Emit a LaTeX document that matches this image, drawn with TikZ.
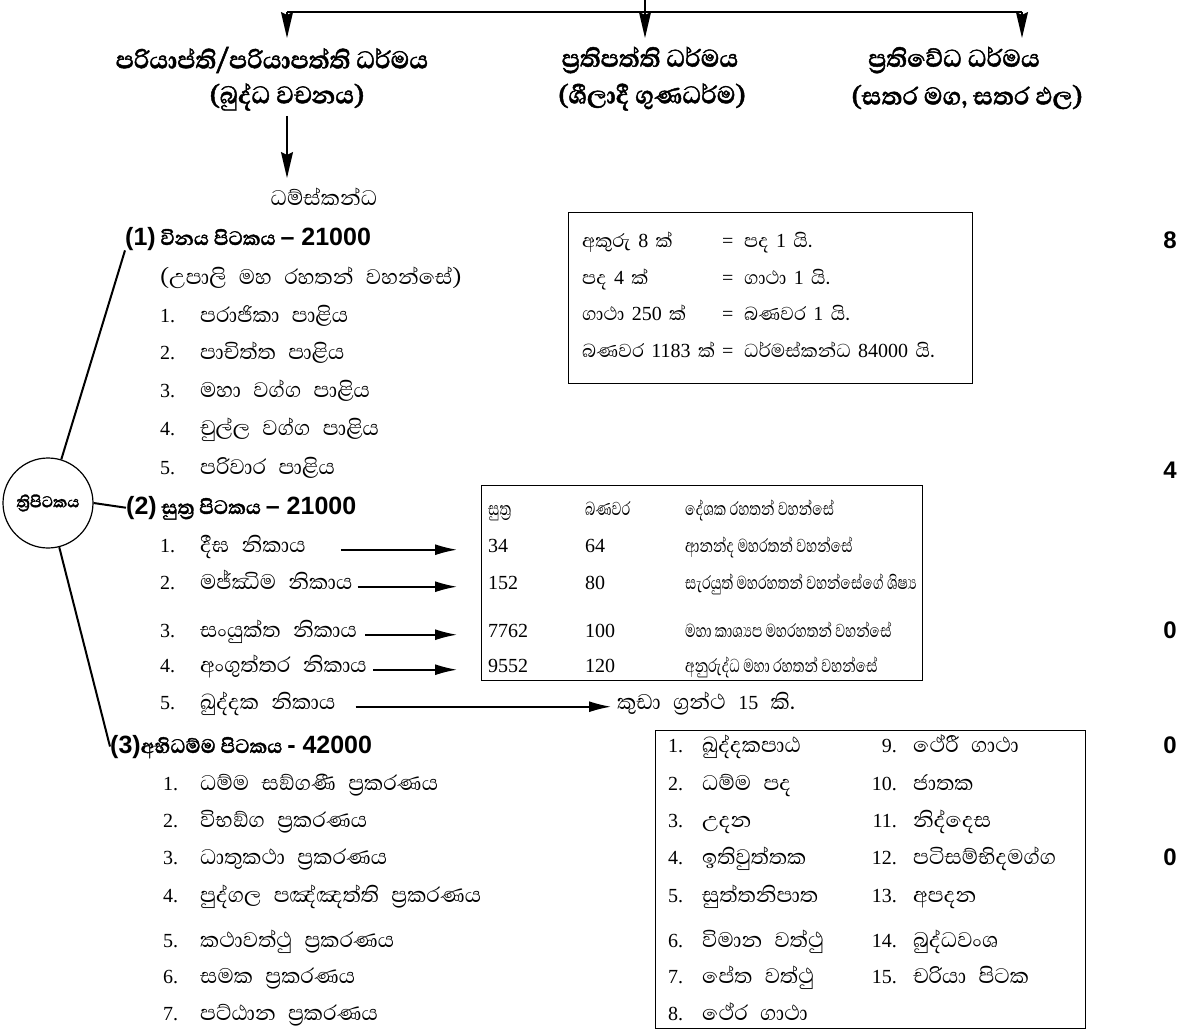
\documentclass[tikz,border=0pt]{standalone}
\usepackage{fontspec}
\setmainfont{Liberation Serif}
\newfontfamily\sinhfont[Script=Sinhala, Scale=1.35, WordSpace=2.4]{Abhaya Libre}
\newfontfamily\sinhbox[Script=Sinhala, Scale=1.2, WordSpace=1.6]{Abhaya Libre}
\newfontfamily\sinhtab[Script=Sinhala, Scale=1.2, FakeStretch=0.73]{Abhaya Libre}
\newfontfamily\sinhhead[Script=Sinhala, BoldFeatures={FakeBold=1.5}]{Abhaya Libre}
\newfontfamily\sansfont{Liberation Sans}
\usetikzlibrary{arrows.meta, positioning}
\newcommand{\zwj}{^^^^200d}
\newcommand{\lat}[1]{{\sansfont\bfseries #1}}
\newcommand{\dg}[1]{{\rmfamily #1}}

\tikzset{
  txt/.style={anchor=base west, inner sep=0pt, font=\sinhfont\fontsize{20}{24}\selectfont},
  btxt/.style={anchor=base west, inner sep=0pt, font=\sinhbox\fontsize{20}{24}\selectfont},
  tab/.style={anchor=base west, inner sep=0pt, font=\sinhtab\fontsize{20}{24}\selectfont},
  num/.style={anchor=base west, inner sep=0pt, font=\fontsize{20}{24}\selectfont},
  head/.style={inner sep=0pt, font=\sinhhead\bfseries\fontsize{31}{36}\selectfont},
  sub/.style={anchor=base west, inner sep=0pt, font=\sinhhead\bfseries\fontsize{25}{30}\selectfont},
  box/.style={draw, line width=1.2pt, anchor=north west, inner sep=0pt},
  big/.style={-{Stealth[length=26pt,width=12pt,inset=3pt]}, line width=1.6pt},
  arr/.style={-{Latex[length=22pt,width=11pt]}, line width=1.6pt},
  trunk/.style={line width=2pt}
}

\begin{document}
\begin{tikzpicture}[x=1pt,y=-1pt]
  \useasboundingbox (0,0) rectangle (1184,1030);

  % Drei Dhamma-Arten oben
  \node[head] (pari1) at (272,60) {පරියාප්ති/පරියාපත්ති ධර්මය};
  \node[head] (pari2) at (287,97) {(බුද්ධ වචනය)};
  \node[head] (prati1) at (650,60) {ප්\zwj රතිපත්ති ධර්මය};
  \node[head] (prati2) at (652,97) {(ශීලාදී ගුණධර්ම)};
  \node[head] (vedha1) at (954,60) {ප්\zwj රතිවේධ ධර්මය};
  \node[head] (vedha2) at (967,97) {(සතර මග, සතර ඵල)};

  \coordinate (top) at (645,0);
  \coordinate (barL) at (287,12);
  \coordinate (barM) at (645,12);
  \coordinate (barR) at (1022,12);
  \draw[trunk] (barL) -- (barR);
  \draw[big] (top) -- (barM) -- (barM |- 0,38);
  \draw[big] (barL) -- (barL |- 0,38);
  \draw[big] (barR) -- (barR |- 0,38);

  \node[txt, anchor=center] (dham) at (324,197) {ධම්ස්කන්ධ};
  \coordinate (d0) at (287,116);
  \draw[big] (d0) -- (d0 |- 0,178);

  % Kreis
  \node[draw, circle, line width=1.2pt, minimum size=90pt, inner sep=0pt,
        font=\sinhhead\bfseries\fontsize{20}{22}\selectfont] (tri) at (48,503) {ත්\zwj රිපිටකය};

  % (1) Vinaya
  \node[sub] (h1) at (125,245) {\lat{(1)} විනය පිටකය \lat{– 21000}};
  \node[txt] (upali) at (160,284) {(උපාලි මහ රහතන් වහන්සේ)};
  \foreach \y/\n/\t [count=\i] in {322/1./පරාජිකා පාළිය, 359/2./පාචිත්ත පාළිය,
      397/3./මහා වග්ග පාළිය, 435/4./චුල්ල වග්ග පාළිය, 474/5./පරිවාර පාළිය}
  {
    \node[num] (vn\i) at (160,\y) {\n};
    \node[txt] (vi\i) at (200,\y) {\t};
  }

  % (2) Sutta
  \node[sub] (h2) at (126,514) {\lat{(2)} සුත්\zwj ර පිටකය \lat{– 21000}};
  \foreach \y/\n/\t [count=\i] in {552/1./දීඝ නිකාය, 589/2./මජ්ඣිම නිකාය,
      637/3./සංයුක්ත නිකාය, 672/4./අංගුත්තර නිකාය, 709/5./ඛුද්දක නිකාය}
  {
    \node[num] (nn\i) at (160,\y) {\n};
    \node[txt] (ni\i) at (200,\y) {\t};
  }

  % (3) Abhidhamma
  \node[sub] (h3) at (110,753) {\lat{(3)}අභිධම්ම පිටකය \lat{- 42000}};
  \foreach \y/\n/\t [count=\i] in {790/1./ධම්ම සඞ්ගණී ප්\zwj රකරණය, 827/2./විභඞ්ග ප්\zwj රකරණය,
      864/3./ධාතුකථා ප්\zwj රකරණය, 902/4./පුද්ගල පඤ්ඤත්ති ප්\zwj රකරණය,
      947/5./කථාවත්ථු ප්\zwj රකරණය, 983/6./සමක ප්\zwj රකරණය, 1020/7./පට්ඨාන ප්\zwj රකරණය}
  {
    \node[num] (an\i) at (163,\y) {\n};
    \node[txt] (ab\i) at (200,\y) {\t};
  }

  % Aeste
  \draw[trunk] (tri) -- (h1.south west);
  \draw[trunk] (tri.east) -- (h2.west);
  \draw[trunk] (tri) -- (h3.west);

  % Kasten: Akkhara
  \node[box, minimum width=404pt, minimum height=171pt] (mbox) at (568,212) {};
  \foreach \y/\a/\b in {247/අකුරු \dg{8} ක්/පද \dg{1} යි., 284/පද \dg{4} ක්/ගාථා \dg{1} යි.,
      320/ගාථා \dg{250} ක්/බණවර \dg{1} යි., 357/බණවර \dg{1183} ක්/ධර්මස්කන්ධ \dg{84000} යි.}
  {
    \node[btxt] at (582,\y) {\a};
    \node[num] at (722,\y) {=};
    \node[btxt] at (744,\y) {\b};
  }

  % Kasten: Sutta-Tabelle
  \node[box, minimum width=441pt, minimum height=195pt] (sbox) at (481,485) {};
  \foreach \y/\a/\b/\c in {515/සුත්\zwj ර/බණවර/දේශක රහතන් වහන්සේ,
      552/\dg{34}/\dg{64}/ආනන්ද මහරතන් වහන්සේ,
      589/\dg{152}/\dg{80}/සැරයුත් මහරහතන් වහන්සේගේ ශිෂ්\zwj ය,
      637/\dg{7762}/\dg{100}/මහා කාශ්\zwj යප මහරහතන් වහන්සේ,
      672/\dg{9552}/\dg{120}/අනුරුද්ධ මහා රහතන් වහන්සේ}
  {
    \node[tab] at (488,\y) {\a};
    \node[tab] at (585,\y) {\b};
    \node[tab] at (685,\y) {\c};
  }
  \node[txt] (kuda) at (617,709) {කුඩා ග්\zwj රන්ථ \dg{15} කි.};

  \foreach \i/\s in {1/35,2/5,3/8,4/6}
    \draw[arr] ([xshift=\s pt]ni\i.east |- nn\i.mid) -- ([xshift=-24pt]sbox.west |- nn\i.mid);
  \draw[arr] ([xshift=20pt]ni5.east |- nn5.mid) -- ([xshift=-6pt]kuda.west |- nn5.mid);

  % Kasten: Khuddaka
  \node[box, minimum width=430pt, minimum height=298pt] (kbox) at (655,730) {};
  \foreach \y/\n/\t in {752/1./ඛුද්දකපාඨ, 790/2./ධම්ම පද, 827/3./උදන, 864/4./ඉතිවුත්තක,
      902/5./සුත්තනිපාත, 947/6./විමාන වත්ථු, 983/7./පේත වත්ථු, 1020/8./ථේර ගාථා}
  {
    \node[num] at (668,\y) {\n};
    \node[txt] at (702,\y) {\t};
  }
  \foreach \y/\n/\t in {752/9./ථේරී ගාථා, 790/10./ජාතක, 827/11./නිද්දෙස, 864/12./පටිසම්භිදමග්ග,
      902/13./අපදන, 947/14./බුද්ධවංශ, 983/15./චරියා පිටක}
  {
    \node[num, anchor=base east] at (897,\y) {\n};
    \node[txt] at (913,\y) {\t};
  }

  % Ziffern rechts
  \foreach \y/\d in {248/8, 478/4, 638/0, 753/0, 865/0}
    \node[inner sep=0pt, anchor=base, font=\sansfont\bfseries\fontsize{24}{28}\selectfont] at (1170,\y) {\d};
\end{tikzpicture}
\end{document}
